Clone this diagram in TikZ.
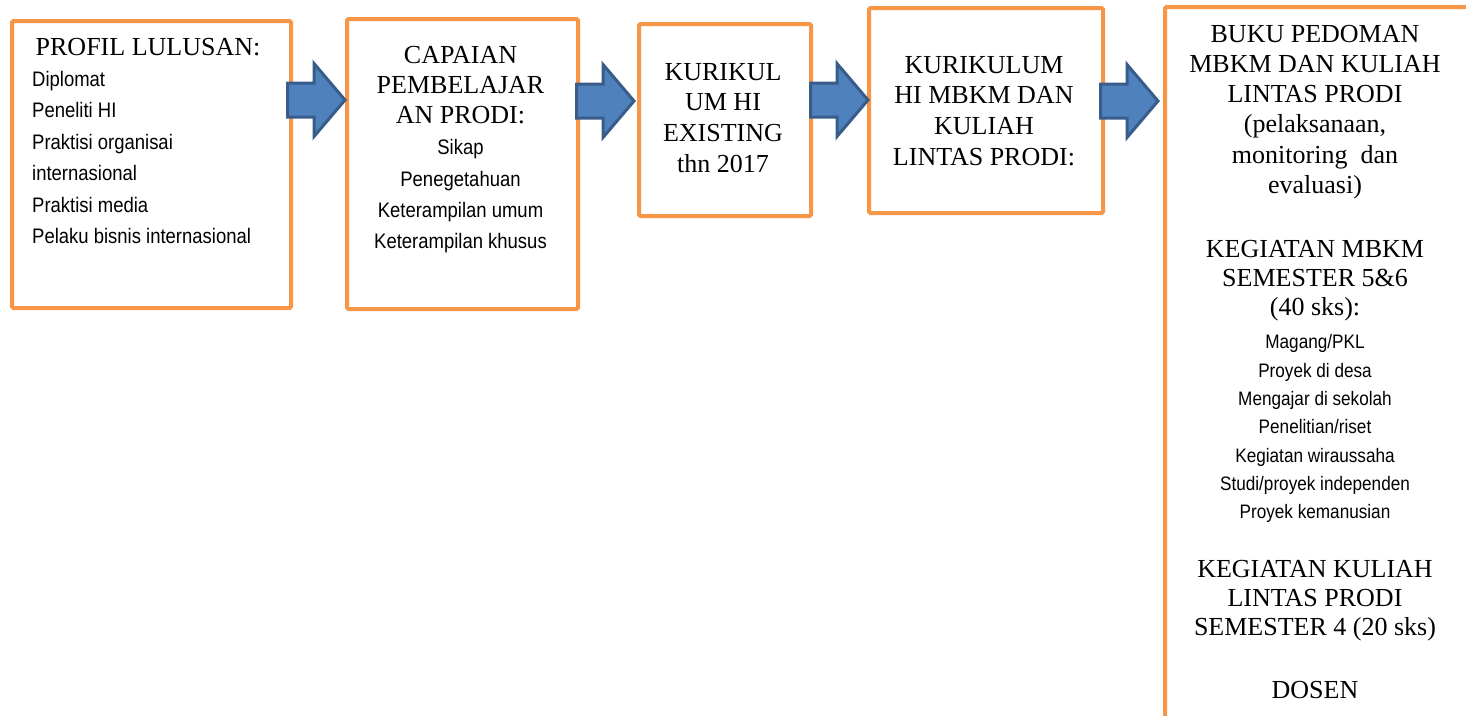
\documentclass[tikz,border=0pt]{standalone}
\usepackage{fontspec}
\setmainfont{Liberation Serif}
\newfontfamily\narrowfont[FakeStretch=0.88]{Liberation Sans}
\definecolor{boxorange}{HTML}{F79646}
\definecolor{arrowfill}{HTML}{4F81BD}
\definecolor{arrowline}{HTML}{385D8A}
\tikzset{
  box/.style={draw=boxorange, line width=4pt, fill=white, inner sep=0pt,
    anchor=north west, rounded corners=1.5pt},
  serifline/.style={inner sep=0pt, anchor=base, font=\fontsize{26}{30}\selectfont},
  narrowline/.style={inner sep=0pt, anchor=base, font=\narrowfont\fontsize{21}{25}\selectfont},
  smallnarrow/.style={inner sep=0pt, anchor=base, font=\narrowfont\fontsize{19.5}{23}\selectfont},
  blockarrow/.style={fill=arrowfill, draw=arrowline, line width=3pt, line join=miter},
}
% tail x, tip x, centre y
\newcommand\blockarrowpath[3]{%
  \draw[blockarrow] (#1+1.5,#3-17) -- (#2-33,#3-17) -- (#2-33,#3-36.5) -- (#2-2,#3)
    -- (#2-33,#3+36.5) -- (#2-33,#3+17) -- (#1+1.5,#3+17) -- cycle;}
\begin{document}
\begin{tikzpicture}[x=1pt,y=-1pt]
\useasboundingbox (0,0) rectangle (1466,715);
% boxes
\node[box, minimum width=279pt, minimum height=287pt] (b1) at (10,19) {};
\node[box, minimum width=231pt, minimum height=290pt] (b2) at (345,17) {};
\node[box, minimum width=172pt, minimum height=192pt] (b3) at (637,22) {};
\node[box, minimum width=234pt, minimum height=205pt] (b4) at (867,6) {};
\node[box, minimum width=305pt, minimum height=760pt] (b5) at (1163,5) {};
% connectors (block arrows from box to box)
\blockarrowpath{286}{347}{100}
\blockarrowpath{575}{636}{101}
\blockarrowpath{809}{870}{100}
\blockarrowpath{1099}{1160}{101}
% box 1
\node[serifline] (p0) at (148,55) {PROFIL LULUSAN:};
\foreach \t/\y [count=\i] in {Diplomat/86, Peneliti HI/117.5, Praktisi organisai/149,
  internasional/180.5, Praktisi media/212, Pelaku bisnis internasional/243.5}
  \node[narrowline, anchor=base west] (p\i) at (32,\y) {\t};
% box 2
\foreach \t/\y [count=\i] in {CAPAIAN/63, PEMBELAJAR/93, AN PRODI:/123}
  \node[serifline] (c\i) at (460.5,\y) {\t};
\foreach \t/\y [count=\i] in {Sikap/154, Penegetahuan/186, Keterampilan umum/217, Keterampilan khusus/248}
  \node[narrowline] (cs\i) at (460.5,\y) {\t};
% box 3
\foreach \t/\y [count=\i] in {KURIKUL/80, UM HI/110.7, EXISTING/141.3, thn 2017/172}
  \node[serifline] (k\i) at (723,\y) {\t};
% box 4
\foreach \t/\y [count=\i] in {KURIKULUM/73, HI MBKM DAN/103.7, KULIAH/134.3, LINTAS PRODI:/165}
  \node[serifline] (m\i) at (984,\y) {\t};
% box 5
\foreach \t/\y [count=\i] in {BUKU PEDOMAN/42, MBKM DAN KULIAH/72, LINTAS PRODI/102,
  {(pelaksanaan,}/132.5, {monitoring\ \ dan}/163, evaluasi)/193,
  KEGIATAN MBKM/257, SEMESTER 5\&6/286, (40 sks):/315,
  KEGIATAN KULIAH/577, LINTAS PRODI/606, SEMESTER 4 (20 sks)/635, DOSEN/698}
  \node[serifline] (d\i) at (1315,\y) {\t};
\foreach \t/\y [count=\i] in {{Magang/PKL}/348, Proyek di desa/377, Mengajar di sekolah/405,
  {Penelitian/riset}/433, Kegiatan wiraussaha/462, {Studi/proyek independen}/490,
  Proyek kemanusian/518}
  \node[smallnarrow] (ds\i) at (1315,\y) {\t};
\end{tikzpicture}
\end{document}
